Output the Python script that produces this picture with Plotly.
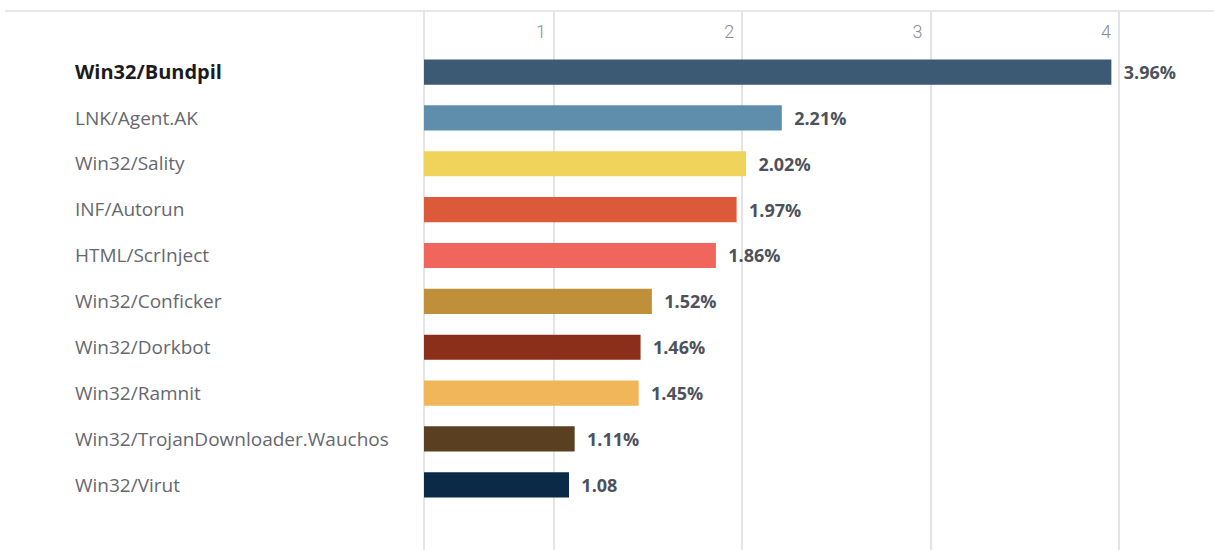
import plotly.graph_objects as go

threats = ["Win32/Bundpil", "LNK/Agent.AK", "Win32/Sality", "INF/Autorun", "HTML/ScrInject",
           "Win32/Conficker", "Win32/Dorkbot", "Win32/Ramnit", "Win32/TrojanDownloader.Wauchos", "Win32/Virut"]
values = [3.96, 2.21, 2.02, 1.97, 1.86, 1.52, 1.46, 1.45, 1.11, 1.08]
value_labels = ["3.96%", "2.21%", "2.02%", "1.97%", "1.86%", "1.52%", "1.46%", "1.45%", "1.11%", "1.08"]
colors = ["#3d5a74", "#5e8eac", "#f0d35a", "#dc593a", "#f0665d",
          "#bf8f3a", "#8b2e1a", "#f1b65a", "#5a4020", "#0a2a48"]
x_ticks = [1, 2, 3, 4]

W, H = 1214, 550
ml, mr, mt, mb = 71, 0, 11, 0
plot_w = W - ml - mr
x_left_px = 424
dom0 = (x_left_px - ml) / plot_w

ticktext = []
for i, t in enumerate(threats):
    if i == 0:
        ticktext.append(f"<b><span style='color:#1c1c1e;font-size:20px'>{t}</span></b>")
    else:
        ticktext.append(t)

fig = go.Figure()
fig.add_trace(go.Bar(
    y=threats, x=values, orientation="h",
    marker=dict(color=colors, line=dict(width=0)),
    width=0.55,
    text=value_labels,
    texttemplate="  %{text}",
    textposition="outside",
    cliponaxis=False,
    textfont=dict(family="Open Sans", size=18, color="#4d525c", weight="bold"),
    hoverinfo="skip",
))

fig.update_layout(
    width=W, height=H,
    margin=dict(l=ml, r=mr, t=mt, b=mb, autoexpand=False),
    plot_bgcolor="white", paper_bgcolor="white",
    showlegend=False,
    xaxis=dict(
        domain=[dom0, 1],
        range=[0.31, 4.505],
        side="top",
        tickvals=x_ticks,
        ticktext=[str(v) for v in x_ticks],
        ticklabelposition="inside left",
        ticklabelshift=-8,
        ticklabelstandoff=8,
        tickfont=dict(family="Roboto", size=18, color="#8a8a90", weight=300),
        showgrid=True, gridcolor="#e3e3e9", gridwidth=2,
        zeroline=False, showline=False, ticks="",
        automargin=False,
    ),
    yaxis=dict(
        anchor="free", position=0,
        categoryorder="array", categoryarray=threats,
        range=[10.42, -1.33],
        tickvals=threats, ticktext=ticktext,
        ticklabelposition="inside",
        tickfont=dict(family="Open Sans", size=19, color="#66686f"),
        showgrid=False, zeroline=False, showline=False, ticks="",
        automargin=False,
    ),
    shapes=[
        dict(type="line", xref="paper", yref="paper", x0=(5 - ml) / plot_w, x1=1, y0=1, y1=1,
             line=dict(color="#e6e6ec", width=2)),
        dict(type="line", xref="x domain", yref="paper", x0=0, x1=0, y0=0, y1=1,
             line=dict(color="#e3e3e9", width=2), layer="below"),
    ],
)

fig.write_html("out.html", config={"displayModeBar": False},
               post_script="document.body.style.margin='0';")
